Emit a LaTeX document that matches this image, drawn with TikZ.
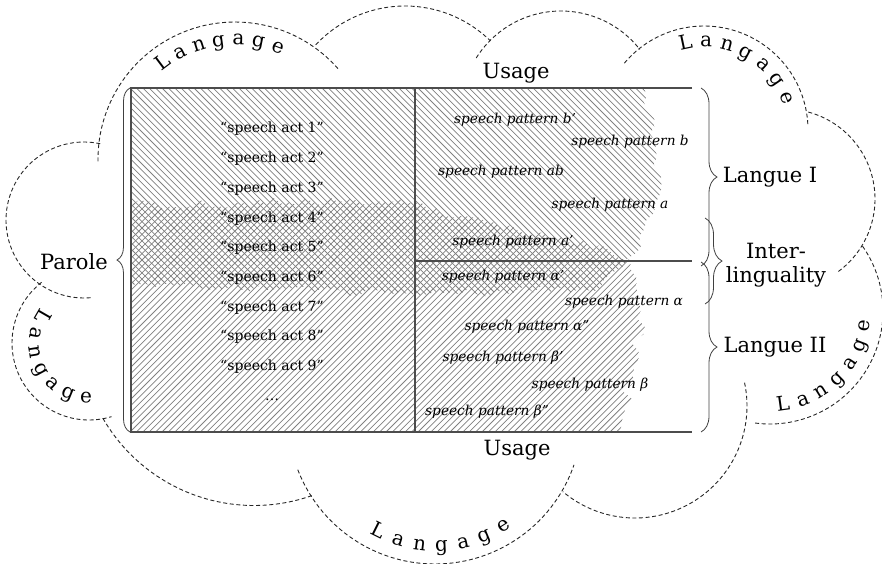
\documentclass[tikz,border=0pt]{standalone}
\usepackage{fontspec}
\setmainfont{DejaVu Serif}
\usetikzlibrary{decorations.pathreplacing,calc}
\begin{document}
\begin{tikzpicture}[x=1pt,y=-1pt,
  cloudarc/.style={draw=black!85, line width=0.9pt, dash pattern=on 4pt off 2.6pt},
  hatch/.style={draw=black!50, line width=0.75pt},
  frame/.style={draw=black!70, line width=1.1pt},
  bracestyle/.style={draw=black!75, line width=0.8pt, decorate, decoration={brace, amplitude=#1}},
  big/.style={font=\fontsize{21}{24}\selectfont, text=black, inner sep=0pt},
  act/.style={font=\fontsize{14}{16}\selectfont, text=black, inner sep=0pt},
  pat/.style={font=\fontsize{13.7}{16}\selectfont\itshape, text=black, inner sep=0pt},
  lgletter/.style={font=\fontsize{20}{22}\selectfont, anchor=base, inner sep=0pt, text=black},
]
\useasboundingbox (0,0) rectangle (882,563);

% ---------- hatching ----------
\pgfmathsetseed{7}
\begin{scope}
\clip (131,88) -- (644,88)
  \foreach \t in {1,...,12}{ -- ({644+(660-644)*\t/12+5*rand},{88+(180-88)*\t/12}) }
  \foreach \t in {1,...,8}{ -- ({660+(640-660)*\t/8+5*rand},{180+(245-180)*\t/8}) }
  \foreach \t in {1,...,6}{ -- ({640+(600-640)*\t/6+4*rand},{245+(288-245)*\t/6}) }
  \foreach \t in {1,...,25}{ -- ({600+(415-600)*\t/25},{288+(295-288)*\t/25+4*rand}) }
  \foreach \t in {1,...,36}{ -- ({415+(131-415)*\t/36},{295+(283-295)*\t/36+4*rand}) }
  -- (131,283) -- cycle;
\foreach \k in {-230,-223.6,...,690} \draw[hatch] (\k,80) -- ++(360,360);
\end{scope}
\begin{scope}
\clip (131,432) -- (131,205)
  \foreach \t in {1,...,36}{ -- ({131+(415-131)*\t/36},{205+(200-205)*\t/36+5*rand}) }
  \foreach \t in {1,...,8}{ -- ({415+(470-415)*\t/8},{205+(218-205)*\t/8+4*rand}) }
  \foreach \t in {1,...,16}{ -- ({470+(600-470)*\t/16},{218+(248-218)*\t/16+4*rand}) }
  \foreach \t in {1,...,4}{ -- ({600+(630-600)*\t/4},{248+(262-248)*\t/4+3*rand}) }
  \foreach \t in {1,...,6}{ -- ({630+(642-630)*\t/6+6*rand},{262+(310-262)*\t/6}) }
  \foreach \t in {1,...,15}{ -- ({642+(622-642)*\t/15+6*rand},{310+(432-310)*\t/15}) }
  -- (622,432) -- cycle;
\foreach \k in {-230,-223.6,...,690} \draw[hatch] (\k,440) -- ++(360,-360);
\end{scope}

% ---------- frame ----------
\coordinate (tr) at (692,88);
\coordinate (tl) at (131,88);
\coordinate (bl) at (131,432);
\coordinate (br) at (692,432);
\coordinate (mt) at (415,88);
\coordinate (mb) at (415,432);
\coordinate (ml) at (415,261);
\coordinate (mr) at (692,261);
\draw[frame] (tr) -- (tl) -- (bl) -- (br);
\draw[frame] (mt) -- (mb);
\draw[frame] (ml) -- (mr);

% ---------- braces ----------
\coordinate (pb) at (130,432);
\coordinate (pt) at (130,88);
\draw[bracestyle=13pt] (pb) -- (pt);
\coordinate (l1t) at (701,88);
\coordinate (l1b) at (701,266);
\draw[bracestyle=16pt] (l1t) -- (l1b);
\coordinate (l2t) at (701,262);
\coordinate (l2b) at (701,432);
\draw[bracestyle=16pt] (l2t) -- (l2b);
\coordinate (it) at (705,218);
\coordinate (ib) at (705,304);
\draw[bracestyle=17pt] (it) -- (ib);

% ---------- cloud ----------
\draw[cloudarc] plot[domain=181:41, samples=60] ({235+137*cos(\x)},{159-137*sin(\x)});
\draw[cloudarc] plot[domain=137:46, samples=50] ({405+122*cos(\x)},{128-122*sin(\x)});
\draw[cloudarc] plot[domain=148:38, samples=50] ({561+100*cos(\x)},{111-100*sin(\x)});
\draw[cloudarc] plot[domain=140:3, samples=60] ({704+104*cos(\x)},{130-104*sin(\x)});
\draw[cloudarc] plot[domain=75:-54, samples=60] ({785+90*cos(\x)},{199-90*sin(\x)});
\draw[cloudarc] plot[domain=35:-98, samples=60] ({770+113*cos(\x)},{311-113*sin(\x)});
\draw[cloudarc] plot[domain=12:-130, samples=60] ({635+112*cos(\x)},{406-112*sin(\x)});
\draw[cloudarc] plot[domain=201:341, samples=60] ({435+147*cos(\x)},{417-147*sin(\x)});
\draw[cloudarc] plot[domain=210:290, samples=50] ({254+174.5*cos(\x)},{331-174.5*sin(\x)});
\draw[cloudarc] plot[domain=128:287, samples=60] ({89+77*cos(\x)},{343-77*sin(\x)});
\draw[cloudarc] plot[domain=78:276, samples=60] ({84+78*cos(\x)},{220-78*sin(\x)});

% ---------- Langage labels ----------
\foreach \ch [count=\i from 0] in {L,a,n,g,a,g,e} {
  \pgfmathsetmacro\t{127-9.67*\i}
  \node[lgletter, rotate=\t-90] (lgA\i) at ({235+114*cos(\t)},{159-114*sin(\t)}) {\ch};
}
\foreach \ch [count=\i from 0] in {L,a,n,g,a,g,e} {
  \pgfmathsetmacro\t{102-13.5*\i}
  \node[lgletter, rotate=\t-90] (lgB\i) at ({704+83*cos(\t)},{130-83*sin(\t)}) {\ch};
}
\foreach \ch [count=\i from 0] in {L,a,n,g,a,g,e} {
  \pgfmathsetmacro\t{-82+12.2*\i}
  \node[lgletter, rotate=\t+90] (lgC\i) at ({770+101*cos(\t)},{311-101*sin(\t)}) {\ch};
}
\foreach \ch [count=\i from 0] in {L,a,n,g,a,g,e} {
  \pgfmathsetmacro\t{243.5+9.8*\i}
  \node[lgletter, rotate=\t+90] (lgD\i) at ({435+134*cos(\t)},{417-134*sin(\t)}) {\ch};
}
\foreach \ch [count=\i from 0] in {L,a,n,g,a,g,e} {
  \pgfmathsetmacro\t{150+19.5*\i}
  \node[lgletter, rotate=\t+90] (lgE\i) at ({89+60*cos(\t)},{343-60*sin(\t)}) {\ch};
}

% ---------- labels ----------
\node[big] (usage1) at (516,73) {Usage};
\node[big] (usage2) at (517,450) {Usage};
\node[big] (parole) at (74,262) {Parole};
\node[big] (langue1) at (770,177) {Langue I};
\node[big, align=center] (inter) at (776,265) {Inter-\\linguality};
\node[big] (langue2) at (775,347) {Langue II};

% ---------- speech acts ----------
\foreach \n/\y in {1/129,2/159,3/189,4/219,5/248,6/278,7/308,8/337,9/367}
  \node[act] (sa\n) at (272,\y) {“speech act \n”};
\node[act] (sadots) at (272,400) {…};

% ---------- speech patterns ----------
\node[pat] (spb1) at (515,120) {speech pattern b'};
\node[pat] (spb) at (630,142) {speech pattern b};
\node[pat] (spab) at (501,172) {speech pattern ab};
\node[pat] (spa) at (610,205) {speech pattern a};
\node[pat] (spa1) at (513,242) {speech pattern a'};
\node[pat] (spal1) at (503,277) {speech pattern α'};
\node[pat] (spal) at (624,302) {speech pattern α};
\node[pat] (spal2) at (527,327) {speech pattern α"};
\node[pat] (spbe1) at (503,358) {speech pattern β'};
\node[pat] (spbe) at (590,385) {speech pattern β};
\node[pat] (spbe2) at (487,412) {speech pattern β"};
\end{tikzpicture}
\end{document}
